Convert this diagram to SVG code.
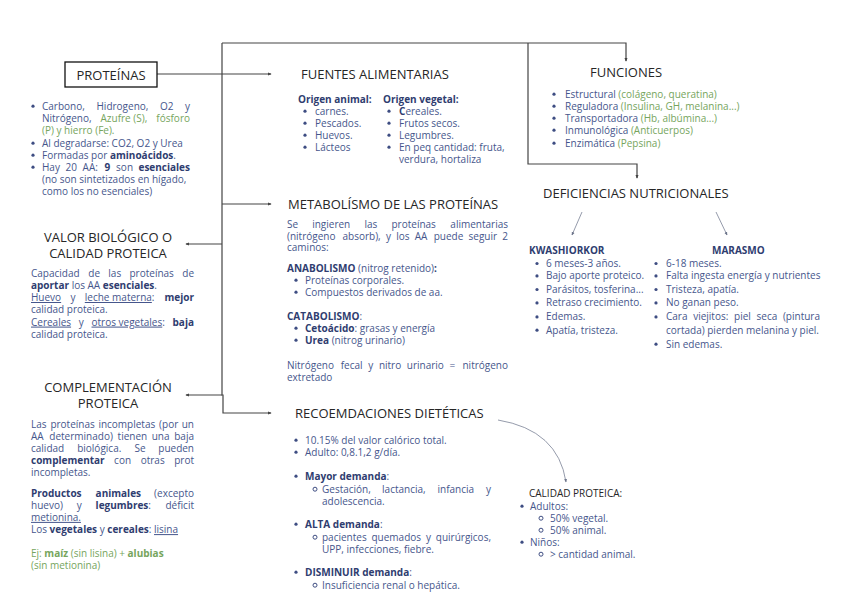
<svg xmlns="http://www.w3.org/2000/svg" width="848" height="600" viewBox="0 0 848 600">
<defs>
<style>
text { font-family: "Open Sans", "Liberation Sans", sans-serif; }
.h { font-size: 13px; fill: #262626; }
.b { font-size: 10px; fill: #46568c; }
.s { font-weight: 700; fill: #2f3d70; }
.g { fill: #76a55d; }
.u { text-decoration: underline; }
.dot { fill: #3e4d82; }
.od { fill: none; stroke: #3e4d82; stroke-width: 1; }
.ln { fill: none; stroke: #444; stroke-width: 1.2; }
.thin { fill: none; stroke: #7a8296; stroke-width: 0.8; }
</style>
<marker id="ah" viewBox="0 0 6 6" refX="5" refY="3" markerWidth="4" markerHeight="4" orient="auto" markerUnits="userSpaceOnUse">
<path d="M0,0.5 L6,3 L0,5.5 z" fill="#444"/>
</marker>
<marker id="ah2" viewBox="0 0 6 6" refX="5" refY="3" markerWidth="3.5" markerHeight="3.5" orient="auto" markerUnits="userSpaceOnUse">
<path d="M0,0.5 L6,3 L0,5.5 z" fill="#6a7288"/>
</marker>
</defs>
<rect width="848" height="600" fill="#fff"/>

<g id="connectors">
<path class="ln" d="M157,74 H271" marker-end="url(#ah)"/>
<path class="ln" d="M222,43 V395 H223 V413 H271" marker-end="url(#ah)"/>
<path class="ln" d="M222,43 H626 V61" marker-end="url(#ah)"/>
<path class="ln" d="M222,204 H271" marker-end="url(#ah)"/>
<path class="ln" d="M222,244 H186" marker-end="url(#ah)"/>
<path class="ln" d="M222,395 H186" marker-end="url(#ah)"/>
<path class="ln" d="M528,43 V164 H637 V178" marker-end="url(#ah)"/>
<path class="thin" d="M582,212 L572,235" marker-end="url(#ah2)"/>
<path class="thin" d="M716,212 L727,235" marker-end="url(#ah2)"/>
<path class="thin" d="M498,420 Q558,430 566,482" marker-end="url(#ah2)"/>
</g>

<g id="proteinas">
<rect x="65" y="62" width="92" height="25" fill="#fff" stroke="#111" stroke-width="1.3"/>
<text class="h" x="111" y="79.5" text-anchor="middle" font-size="14">PROTEÍNAS</text>
<circle class="dot" cx="33" cy="106.2" r="1.6"/>
<circle class="dot" cx="33" cy="143.2" r="1.6"/>
<circle class="dot" cx="33" cy="155.2" r="1.6"/>
<circle class="dot" cx="33" cy="167.2" r="1.6"/>
<text class="b" y="109.5"><tspan x="42">Carbono,</tspan><tspan x="96.5">Hidrogeno,</tspan><tspan x="160">O2</tspan></text>
<text class="b" x="190" y="109.5" text-anchor="end">y</text>
<text class="b" y="121.5"><tspan x="42">Nitrógeno,</tspan><tspan x="100.5" class="g">Azufre (S),</tspan></text>
<text class="b g" x="190" y="121.5" text-anchor="end">fósforo</text>
<text class="b g" x="42" y="133.5">(P) y hierro (Fe).</text>
<text class="b" x="42" y="146.5">Al degradarse: CO2, O2 y Urea</text>
<text class="b" x="42" y="158.5">Formadas por <tspan class="s">aminoácidos</tspan>.</text>
<text class="b" y="170.5"><tspan x="42">Hay</tspan><tspan x="65.6">20</tspan><tspan x="82.6">AA:</tspan><tspan x="104.5" class="s">9</tspan><tspan x="116.1">son</tspan></text>
<text class="b s" x="190" y="170.5" text-anchor="end">esenciales</text>
<text class="b" x="42" y="182.7">(no son sintetizados en hígado,</text>
<text class="b" x="42" y="195">como los no esenciales)</text>
</g>

<g id="valor-biologico">
<text class="h" x="108" y="241.5" text-anchor="middle">VALOR BIOLÓGICO O</text>
<text class="h" x="108" y="257.5" text-anchor="middle">CALIDAD PROTEICA</text>
<text class="b" y="276.5"><tspan x="31">Capacidad</tspan><tspan x="88.3">de</tspan><tspan x="108.3">las</tspan><tspan x="129.5">proteínas</tspan></text>
<text class="b" x="194" y="276.5" text-anchor="end">de</text>
<text class="b" x="31" y="288.5"><tspan class="s">aportar</tspan> los AA <tspan class="s">esenciales</tspan>.</text>
<text class="b" y="301"><tspan x="31" class="u">Huevo</tspan><tspan x="70.4">y</tspan><tspan x="84.8" class="u">leche materna</tspan>:</text>
<text class="b s" x="194" y="301" text-anchor="end">mejor</text>
<text class="b" x="31" y="313.3">calidad proteica.</text>
<text class="b" y="325.6"><tspan x="31" class="u">Cereales</tspan><tspan x="78.8">y</tspan><tspan x="91.5" class="u">otros vegetales</tspan>:</text>
<text class="b s" x="194" y="325.6" text-anchor="end">baja</text>
<text class="b" x="31" y="338">calidad proteica.</text>
</g>

<g id="complementacion">
<text class="h" x="108" y="392" text-anchor="middle">COMPLEMENTACIÓN</text>
<text class="h" x="108" y="407.5" text-anchor="middle">PROTEICA</text>
<text class="b" y="427.5"><tspan x="31">Las</tspan><tspan x="50.4">proteínas</tspan><tspan x="98.4">incompletas</tspan><tspan x="159.1">(por</tspan></text>
<text class="b" x="194" y="427.5" text-anchor="end">un</text>
<text class="b" y="439.7"><tspan x="31">AA</tspan><tspan x="49.3">determinado)</tspan><tspan x="117.6">tienen</tspan><tspan x="151.7">una</tspan></text>
<text class="b" x="194" y="439.7" text-anchor="end">baja</text>
<text class="b" y="451.9"><tspan x="31">calidad</tspan><tspan x="77.2">biológica.</tspan><tspan x="134.5">Se</tspan></text>
<text class="b" x="194" y="451.9" text-anchor="end">pueden</text>
<text class="b" y="464.1"><tspan x="31" class="s">complementar</tspan><tspan x="114.1">con</tspan><tspan x="140.7">otras</tspan></text>
<text class="b" x="194" y="464.1" text-anchor="end">prot</text>
<text class="b" x="31" y="476.3">incompletas.</text>
<text class="b" y="496.5"><tspan x="31" class="s">Productos</tspan><tspan x="95.6" class="s">animales</tspan></text>
<text class="b" x="194" y="496.5" text-anchor="end">(excepto</text>
<text class="b" y="508.7"><tspan x="31">huevo)</tspan><tspan x="76.7">y</tspan><tspan x="95.6" class="s">legumbres</tspan>:</text>
<text class="b" x="194" y="508.7" text-anchor="end">déficit</text>
<text class="b u" x="31" y="520.9">metionina.</text>
<text class="b" x="31" y="533.1">Los <tspan class="s">vegetales</tspan> y <tspan class="s">cereales</tspan>: <tspan class="u">lisina</tspan></text>
<text class="b g" x="31" y="556.5">Ej: <tspan font-weight="700">maíz</tspan> (sin lisina) + <tspan font-weight="700">alubias</tspan></text>
<text class="b g" x="31" y="568.7">(sin metionina)</text>
</g>

<g id="fuentes">
<text class="h" x="301" y="78.5">FUENTES ALIMENTARIAS</text>
<text class="b s" x="298" y="102.5">Origen animal:</text>
<text class="b s" x="383" y="102.5">Origen vegetal:</text>
<circle class="dot" cx="305" cy="111.2" r="1.6"/>
<circle class="dot" cx="305" cy="123.2" r="1.6"/>
<circle class="dot" cx="305" cy="135.2" r="1.6"/>
<circle class="dot" cx="305" cy="147.2" r="1.6"/>
<text class="b" x="315" y="114.5">carnes.</text>
<text class="b" x="315" y="126.5">Pescados.</text>
<text class="b" x="315" y="138.5">Huevos.</text>
<text class="b" x="315" y="150.5">Lácteos</text>
<circle class="dot" cx="389" cy="111.2" r="1.6"/>
<circle class="dot" cx="389" cy="123.2" r="1.6"/>
<circle class="dot" cx="389" cy="135.2" r="1.6"/>
<circle class="dot" cx="389" cy="147.2" r="1.6"/>
<text class="b" x="399" y="114.5"><tspan class="s">C</tspan>ereales.</text>
<text class="b" x="399" y="126.5">Frutos secos.</text>
<text class="b" x="399" y="138.5">Legumbres.</text>
<text class="b" x="399" y="150.5">En peq cantidad: fruta,</text>
<text class="b" x="399" y="162.5">verdura, hortaliza</text>
</g>

<g id="metabolismo">
<text class="h" x="288" y="208.5">METABOLÍSMO DE LAS PROTEÍNAS</text>
<text class="b" y="227.5"><tspan x="287">Se</tspan><tspan x="312.2">ingieren</tspan><tspan x="364.5">las</tspan><tspan x="391.5">proteínas</tspan></text>
<text class="b" x="508" y="227.5" text-anchor="end">alimentarias</text>
<text class="b" y="239.5"><tspan x="287">(nitrógeno</tspan><tspan x="342.5">absorb),</tspan><tspan x="385.9">y</tspan><tspan x="396.2">los</tspan><tspan x="414.8">AA</tspan><tspan x="433.7">puede</tspan><tspan x="468.5">seguir</tspan></text>
<text class="b" x="508" y="239.5" text-anchor="end">2</text>
<text class="b" x="287" y="251">caminos:</text>
<text class="b" x="287" y="271.5"><tspan class="s">ANABOLISMO</tspan> (nitrog retenido)<tspan class="s">:</tspan></text>
<circle class="dot" cx="296" cy="280.2" r="1.6"/>
<circle class="dot" cx="296" cy="292.2" r="1.6"/>
<text class="b" x="305" y="283.5">Proteínas corporales.</text>
<text class="b" x="305" y="295.5">Compuestos derivados de aa.</text>
<text class="b" x="287" y="319.5"><tspan class="s">CATABOLISMO</tspan>:</text>
<circle class="dot" cx="296" cy="328.2" r="1.6"/>
<circle class="dot" cx="296" cy="340.2" r="1.6"/>
<text class="b" x="305" y="331.5"><tspan class="s">Cetoácido</tspan>: grasas y energía</text>
<text class="b" x="305" y="343.5"><tspan class="s">Urea</tspan> (nitrog urinario)</text>
<text class="b" y="368.5"><tspan x="287">Nitrógeno</tspan><tspan x="340.7">fecal</tspan><tspan x="368.3">y</tspan><tspan x="378.9">nitro</tspan><tspan x="406.8">urinario</tspan><tspan x="449.6">=</tspan></text>
<text class="b" x="508" y="368.5" text-anchor="end">nitrógeno</text>
<text class="b" x="287" y="381">extretado</text>
</g>

<g id="recomendaciones">
<text class="h" x="295" y="417.5">RECOEMDACIONES DIETÉTICAS</text>
<circle class="dot" cx="296" cy="440.2" r="1.6"/>
<circle class="dot" cx="296" cy="452.2" r="1.6"/>
<circle class="dot" cx="296" cy="476.2" r="1.6"/>
<circle class="dot" cx="296" cy="524.2" r="1.6"/>
<circle class="dot" cx="296" cy="572.2" r="1.6"/>
<text class="b" x="305" y="443.5">10.15%  del valor calórico total.</text>
<text class="b" x="305" y="455.5">Adulto: 0,8.1,2 g/día.</text>
<text class="b" x="305" y="479.5"><tspan class="s">Mayor demanda</tspan>:</text>
<circle class="od" cx="315" cy="489.2" r="2"/>
<text class="b" y="492.5"><tspan x="322">Gestación,</tspan><tspan x="382.1">lactancia,</tspan><tspan x="437.5">infancia</tspan></text>
<text class="b" x="491" y="492.5" text-anchor="end">y</text>
<text class="b" x="322" y="504.5">adolescencia.</text>
<text class="b" x="305" y="527.5"><tspan class="s">ALTA demanda</tspan>:</text>
<circle class="od" cx="315" cy="537.2" r="2"/>
<text class="b" y="540.5"><tspan x="322">pacientes</tspan><tspan x="371.5">quemados</tspan><tspan x="425.9">y</tspan></text>
<text class="b" x="491" y="540.5" text-anchor="end">quirúrgicos,</text>
<text class="b" x="322" y="552.5">UPP, infecciones, fiebre.</text>
<text class="b" x="305" y="575.5"><tspan class="s">DISMINUIR demanda</tspan>:</text>
<circle class="od" cx="315" cy="585.2" r="2"/>
<text class="b" x="322" y="588.5">Insuficiencia renal o hepática.</text>
</g>

<g id="calidad-proteica">
<text class="b" x="529" y="496.5" style="fill:#262626">CALIDAD PROTEICA:</text>
<circle class="dot" cx="522" cy="506.2" r="1.6"/>
<text class="b" x="530" y="509.5">Adultos:</text>
<circle class="od" cx="541" cy="518.2" r="2"/>
<text class="b" x="550" y="521.5">50% vegetal.</text>
<circle class="od" cx="541" cy="530.2" r="2"/>
<text class="b" x="550" y="533.5">50% animal.</text>
<circle class="dot" cx="522" cy="542.2" r="1.6"/>
<text class="b" x="530" y="545.5">Niños:</text>
<circle class="od" cx="541" cy="554.2" r="2"/>
<text class="b" x="550" y="557.5">&gt; cantidad animal.</text>
</g>

<g id="funciones">
<text class="h" x="590" y="77">FUNCIONES</text>
<circle class="dot" cx="554" cy="94.2" r="1.6"/>
<circle class="dot" cx="554" cy="106.2" r="1.6"/>
<circle class="dot" cx="554" cy="118.2" r="1.6"/>
<circle class="dot" cx="554" cy="130.2" r="1.6"/>
<circle class="dot" cx="554" cy="143.2" r="1.6"/>
<text class="b" x="565" y="97.5">Estructural <tspan class="g">(colágeno, queratina)</tspan></text>
<text class="b" x="565" y="109.5">Reguladora <tspan class="g">(Insulina, GH, melanina...)</tspan></text>
<text class="b" x="565" y="121.5">Transportadora <tspan class="g">(Hb, albúmina...)</tspan></text>
<text class="b" x="565" y="133.5">Inmunológica <tspan class="g">(Anticuerpos)</tspan></text>
<text class="b" x="565" y="146.5">Enzimática <tspan class="g">(Pepsina)</tspan></text>
</g>

<g id="deficiencias">
<text class="h" x="543" y="197.5">DEFICIENCIAS NUTRICIONALES</text>
</g>

<g id="kwashiorkor">
<text class="b s" x="529" y="253.5">KWASHIORKOR</text>
<circle class="dot" cx="537" cy="263.5" r="1.6"/>
<circle class="dot" cx="537" cy="275.9" r="1.6"/>
<circle class="dot" cx="537" cy="289.5" r="1.6"/>
<circle class="dot" cx="537" cy="302.9" r="1.6"/>
<circle class="dot" cx="537" cy="316.9" r="1.6"/>
<circle class="dot" cx="537" cy="330.2" r="1.6"/>
<text class="b" x="546" y="266.8">6 meses-3 años.</text>
<text class="b" x="546" y="279.2">Bajo aporte proteico.</text>
<text class="b" x="546" y="292.8">Parásitos, tosferina...</text>
<text class="b" x="546" y="306.2">Retraso crecimiento.</text>
<text class="b" x="546" y="320.2">Edemas.</text>
<text class="b" x="546" y="333.5">Apatía, tristeza.</text>
</g>

<g id="marasmo">
<text class="b s" x="712" y="253.5">MARASMO</text>
<circle class="dot" cx="656" cy="263.5" r="1.6"/>
<circle class="dot" cx="656" cy="275.9" r="1.6"/>
<circle class="dot" cx="656" cy="289.5" r="1.6"/>
<circle class="dot" cx="656" cy="302.9" r="1.6"/>
<circle class="dot" cx="656" cy="316.9" r="1.6"/>
<circle class="dot" cx="656" cy="344.2" r="1.6"/>
<text class="b" x="666" y="266.8">6-18 meses.</text>
<text class="b" x="666" y="279.2">Falta ingesta energía y nutrientes</text>
<text class="b" x="666" y="292.8">Tristeza, apatía.</text>
<text class="b" x="666" y="306.2">No ganan peso.</text>
<text class="b" y="320.2"><tspan x="666">Cara</tspan><tspan x="693.2">viejitos:</tspan><tspan x="734.1">piel</tspan><tspan x="756.6">seca</tspan></text>
<text class="b" x="820" y="320.2" text-anchor="end">(pintura</text>
<text class="b" x="666" y="333.5">cortada) pierden melanina y piel.</text>
<text class="b" x="666" y="347.5">Sin edemas.</text>
</g>
</svg>
